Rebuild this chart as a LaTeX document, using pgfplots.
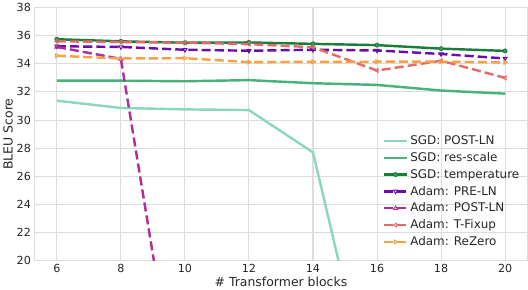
\documentclass[border=0pt]{standalone}
\usepackage{fontspec}
\setmainfont{DejaVu Sans}
\usepackage{pgfplots}
\pgfplotsset{compat=1.18}
\definecolor{c1}{HTML}{8DD6C0}
\definecolor{c2}{HTML}{45B37B}
\definecolor{c3}{HTML}{1B7D3A}
\definecolor{c4}{HTML}{6A0DAD}
\definecolor{c5}{HTML}{B02E9A}
\definecolor{c6}{HTML}{E56B6B}
\definecolor{c7}{HTML}{FFA040}
\definecolor{gridc}{HTML}{DDDDDD}
\definecolor{txt}{HTML}{262626}
\begin{document}
\begin{tikzpicture}
\begin{axis}[
  scale only axis,
  width=487pt, height=250pt,
  xmin=5.3, xmax=20.7, ymin=20, ymax=38,
  xtick={6,8,...,20}, ytick={20,22,...,38},
  grid=major,
  major grid style={gridc, line width=1pt},
  axis line style={gridc, line width=1pt},
  major tick length=0pt,
  tick label style={font=\fontsize{11}{13}\selectfont, text=txt},
  label style={font=\fontsize{12.3}{14}\selectfont, text=txt},
  /pgf/number format/assume math mode=true,
  xlabel={\# Transformer blocks},
  ylabel={BLEU Score},
  xlabel style={yshift=3pt},
  ylabel style={yshift=-3pt},
  clip=true,
  legend style={draw=none, fill=none, font=\fontsize{11.8}{13}\selectfont, text=txt,
    at={(0.70,0.51)}, anchor=north west, row sep=2.2pt, cells={anchor=west}},
  legend image code/.code={\draw[#1] (0cm,0cm) -- (0.8cm,0cm); \draw[#1,solid] plot coordinates {(0.4cm,0cm)};},
  every axis plot/.append style={line width=2.4pt},
  mark size=2.3pt,
]
\addplot[c1, no marks] coordinates {(6,31.38) (8,30.86) (10,30.76) (12,30.71) (14,27.7) (16,8.4)};
\addlegendentry{SGD: POST-LN}
\addplot[c2, no marks] coordinates {(6,32.81) (8,32.8) (10,32.76) (12,32.84) (14,32.62) (16,32.5) (18,32.1) (20,31.88)};
\addlegendentry{SGD: res-scale}
\addplot[c3, mark=*, mark options={solid, fill=c2!60!c3, line width=0.8pt}, mark size=2pt] coordinates {(6,35.75) (8,35.6) (10,35.5) (12,35.52) (14,35.42) (16,35.33) (18,35.08) (20,34.92)};
\addlegendentry{SGD: temperature}
\addplot[c4, dash pattern=on 9pt off 4pt, mark=triangle, mark options={solid, rotate=180, fill=white, line width=0.9pt}] coordinates {(6,35.25) (8,35.2) (10,35.0) (12,34.93) (14,35.0) (16,34.95) (18,34.7) (20,34.38)};
\addlegendentry{Adam: PRE-LN}
\addplot[c5, dash pattern=on 9pt off 4pt, mark=triangle, mark options={solid, fill=white, line width=0.9pt}] coordinates {(6,35.2) (8,34.35) (10,6.5)};
\addlegendentry{Adam: POST-LN}
\addplot[c6, dash pattern=on 9pt off 4pt, mark=triangle, mark options={solid, rotate=90, fill=white, line width=0.9pt}] coordinates {(6,35.6) (8,35.55) (10,35.5) (12,35.4) (14,35.18) (16,33.52) (18,34.22) (20,33.0)};
\addlegendentry{Adam: T-Fixup}
\addplot[c7, dash pattern=on 9pt off 4pt, mark=triangle, mark options={solid, rotate=-90, fill=white, line width=0.9pt}] coordinates {(6,34.57) (8,34.38) (10,34.4) (12,34.12) (14,34.14) (16,34.15) (18,34.15) (20,34.1)};
\addlegendentry{Adam: ReZero}
\end{axis}
\end{tikzpicture}
\end{document}
